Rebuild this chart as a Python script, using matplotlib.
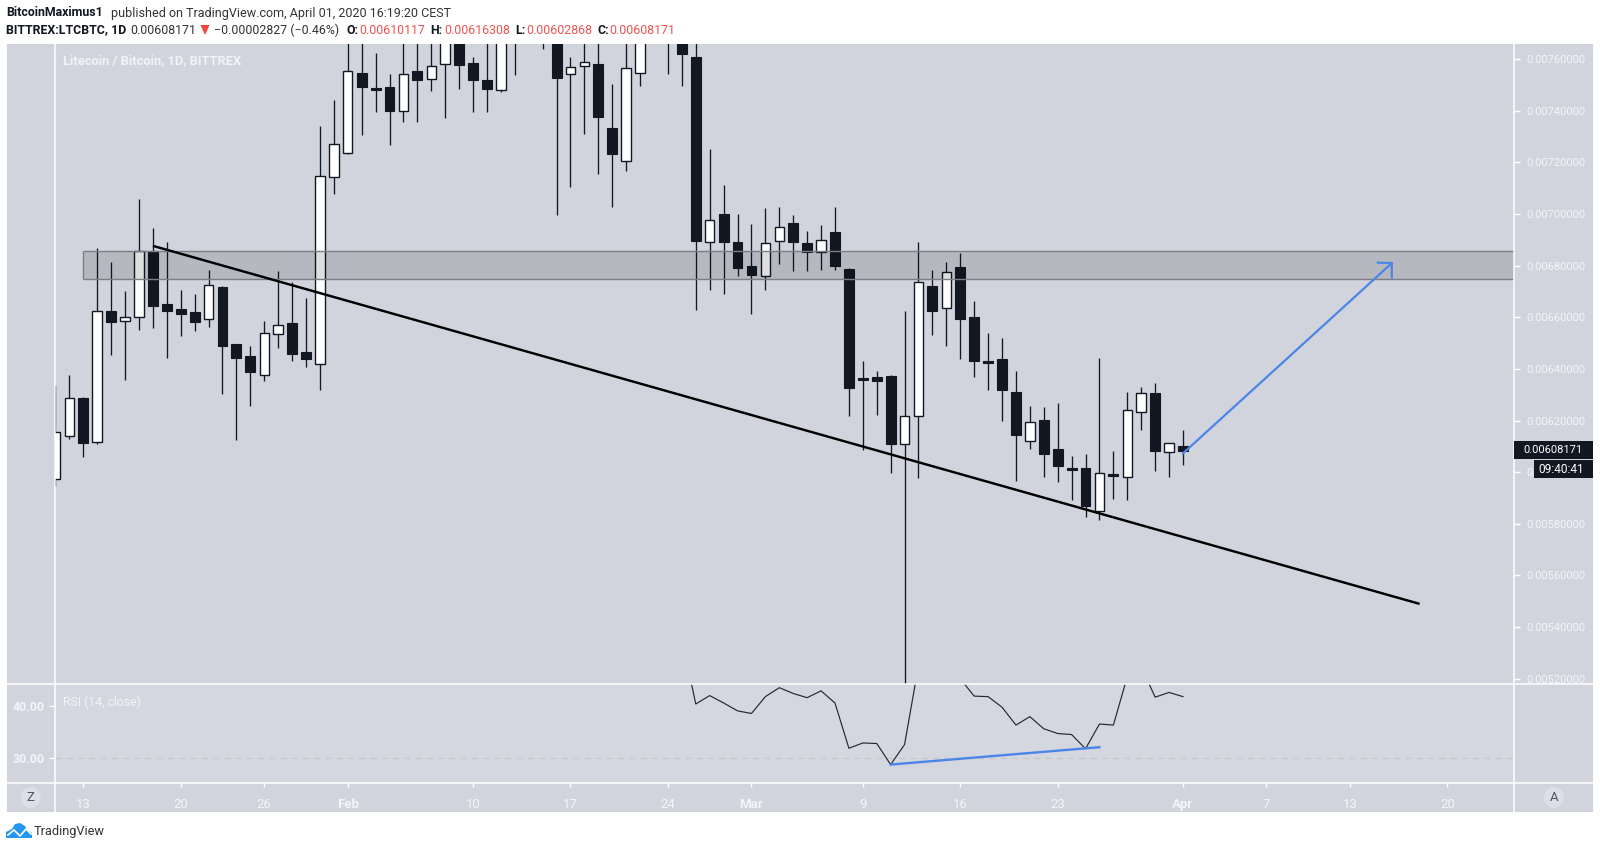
import numpy as np
import matplotlib
matplotlib.use('Agg')
import matplotlib.pyplot as plt
from matplotlib.lines import Line2D
from matplotlib.patches import Rectangle, Ellipse, Polygon

plt.rcParams['font.family'] = ['Roboto', 'DejaVu Sans']

# candles, day 0 = Jan 13 2020, prices in units of 1e-5 BTC
first_day = -2
opens = [597.3, 614.2, 628.6, 611.9, 662.5, 658.7, 660.3, 685.7, 665.2, 663.3, 662.1, 659.5, 671.8, 649.7, 645.0, 637.8,
         653.7, 657.8, 646.6, 642.1, 714.5, 723.8, 754.7, 748.9, 749.3, 740.1, 755.5, 752.2, 758.05, 772, 758.6, 752.0,
         748.2, 775, 772, 772, 775, 754.2, 757.5, 758.2, 733.4, 720.7, 754.8, 775, 775, 770, 760.9, 689.1, 700.1, 689.2,
         679.9, 676.2, 689.7, 696.6, 688.8, 685.5, 693.1, 678.8, 636.5, 636.9, 637.3, 611.1, 621.6, 672.2, 663.8, 679.5,
         660.2, 643.1, 643.9, 631.1, 612.2, 620.2, 609.0, 601.7, 601.7, 585.1, 599.3, 598.3, 623.5, 630.7, 608.0, 610.117]
highs = [633.8, 637.7, 629.0, 686.8, 681.3, 670.2, 705.9, 694.6, 689.2, 670.6, 669.1, 678.4, 672.2, 649.7, 648.9, 658.6,
         678.0, 673.6, 667.5, 734.2, 744.2, 775, 775, 762.3, 754.3, 772, 772, 772, 780, 778, 760.8, 772,
         785, 785, 785, 785, 780, 760.8, 775, 775, 750.4, 775, 785, 785, 785, 780, 775, 725.2, 711.3, 700.1,
         696.2, 702.4, 702.8, 699.7, 693.5, 695.8, 702.8, 679.1, 643.1, 639.2, 637.7, 662.5, 689.2, 678.4, 681.5, 684.9,
         666.4, 653.96, 652.0, 639.2, 625.7, 625.3, 626.8, 606.3, 607.1, 644.3, 608.2, 631.1, 633.0, 634.6, 611.2, 616.308]
lows = [594.8, 612.9, 606.0, 611.0, 645.6, 635.7, 655.1, 655.9, 644.3, 652.8, 654.7, 656.3, 630.3, 612.5, 625.7, 635.4,
        648.1, 643.1, 640.8, 631.9, 707.8, 723.3, 730.7, 739.7, 726.8, 735.8, 735.8, 747.7, 737.3, 748.5, 739.7, 739.7,
        747.3, 754.0, 769, 764.1, 699.8, 710.6, 731.2, 715.6, 702.8, 716.7, 749.7, 770, 754.3, 749.7, 662.9, 670.6, 669.1, 676.0,
        661.3, 670.6, 680.7, 678.0, 678.0, 678.4, 678.4, 621.8, 608.6, 622.2, 599.7, 515.0, 597.8, 653.2, 648.9, 643.9,
        636.9, 631.9, 619.9, 596.6, 609.0, 598.2, 596.2, 589.3, 582.7, 581.5, 589.6, 589.3, 616.4, 600.5, 598.2, 602.868]
closes = [615.7, 628.6, 611.5, 662.4, 658.2, 660.0, 685.6, 664.4, 662.5, 661.3, 658.2, 672.4, 649.0, 644.3, 638.8, 653.8,
          656.9, 645.8, 643.9, 714.7, 727.1, 755.3, 749.3, 748.2, 740.0, 754.2, 752.0, 757.3, 772, 757.9, 752.0, 748.5,
          775, 770, 780, 780, 752.8, 756.9, 758.8, 737.6, 723.3, 756.5, 775, 772, 770, 762.1, 689.6, 697.6, 689.0, 679.1,
          676.4, 688.7, 694.9, 689.2, 685.3, 689.9, 679.9, 632.6, 635.7, 635.4, 611.0, 621.7, 673.6, 662.5, 677.5, 659.4,
          643.1, 642.3, 631.9, 614.4, 619.3, 607.1, 602.4, 600.9, 586.9, 599.6, 598.6, 624.0, 630.6, 608.2, 611.2, 608.171]

# RSI line, only the stretch that shows (day 43 onwards)
rsi_first_day = 43
rsi_values = [52.7, 40.3, 41.9, 40.5, 39.0, 38.5, 41.7, 43.4, 42.3, 41.5, 42.8, 40.5, 31.9, 32.9, 32.8, 28.8, 32.6, 47.6,
              46.0, 47.5, 45.1, 41.8, 41.7, 39.7, 36.3, 37.9, 35.6, 34.7, 34.5, 31.8, 36.5, 36.3, 45.5, 47.4, 41.6, 42.5, 41.7]

# resistance zone and drawings
zone_low, zone_high = 675.0, 685.8
zone_start = 0
trend_days = [5, 96]
trend_prices = [687.7, 549.0]
arrow_days = [79, 94]
arrow_prices = [607.3, 681.0]
head_days = [93, 94, 94]
head_prices = [681.2, 681.0, 675.5]
div_days = [58, 73]
div_values = [28.8, 32.1]

price_ticks = [520, 540, 560, 580, 600, 620, 640, 660, 680, 700, 720, 740, 760]
time_ticks = [0, 7, 13, 19, 28, 35, 42, 48, 56, 63, 70, 79, 85, 91, 98]
time_labels = ['13', '20', '26', 'Feb', '10', '17', '24', 'Mar', '9', '16', '23', 'Apr', '7', '13', '20']
bold_labels = ['Feb', 'Mar', 'Apr']

UNIT = 1e-5
W, H = 1601, 849
BG = '#d1d4dc'
DARK = '#131722'
BLUE = '#4a86e8'
WHITE_TXT = '#f4f5f8'

fig = plt.figure(figsize=(W / 100, H / 100), dpi=100, facecolor='white')


def fx(x):
    return x / W


def fy(y):
    return 1 - y / H


def px_axes(x0, y0, x1, y1):
    return fig.add_axes([fx(x0), fy(y1), fx(x1 - x0), (y1 - y0) / H])


# panel behind everything
fig.add_artist(Rectangle((fx(7), fy(812)), fx(1586), 768 / H, transform=fig.transFigure,
                         facecolor=BG, edgecolor='none', zorder=-5))

L, R, TOP, SEP, BOT = 54.6, 1514, 44, 684, 783
xlim = (-2.06, 102.78)

# price pane
ax = px_axes(L, TOP, R, SEP)
ax.set_facecolor('none')
days = np.arange(first_day, first_day + len(opens))
o, h, l, c = [np.array(a) * UNIT for a in (opens, highs, lows, closes)]
up = c >= o
ax.vlines(days, l, h, color=DARK, lw=0.95, zorder=2)
ax.bar(days[up], (c - o)[up], bottom=o[up], width=0.68, color='white', edgecolor=DARK, linewidth=1.0, zorder=3)
ax.bar(days[~up], (o - c)[~up], bottom=c[~up], width=0.71, color=DARK, edgecolor=DARK, linewidth=0.8, zorder=3)

ax.add_patch(Rectangle((zone_start, zone_low * UNIT), 200, (zone_high - zone_low) * UNIT, facecolor='black', alpha=0.13,
                       edgecolor='none', zorder=4))
ax.hlines([zone_low * UNIT, zone_high * UNIT], zone_start, 200, color='#7c7e85', lw=1.0, zorder=4)
ax.vlines(zone_start, zone_low * UNIT, zone_high * UNIT, color='#7c7e85', lw=1.0, zorder=4)

ax.plot(trend_days, np.array(trend_prices) * UNIT, color='black', lw=1.75, zorder=5, solid_capstyle='butt')
ax.plot(arrow_days, np.array(arrow_prices) * UNIT, color=BLUE, lw=1.6, zorder=5)
ax.plot(head_days, np.array(head_prices) * UNIT, color=BLUE, lw=1.6, zorder=5)

ax.set_xlim(*xlim)
ax.set_ylim(517.96 * UNIT, 765.9 * UNIT)
ax.set_xticks([])
ax.yaxis.tick_right()
ax.set_yticks(np.array(price_ticks) * UNIT)
ax.set_yticklabels(['%.8f' % (t * UNIT) for t in price_ticks])
ax.tick_params(axis='y', length=4, width=1, color='white', labelcolor=WHITE_TXT, labelsize=8.0, pad=5)
for s in ax.spines.values():
    s.set_visible(False)

# rsi pane
rsi = px_axes(L, SEP, R, BOT)
rsi.set_facecolor('#d4d7df')
rsi.plot(np.arange(rsi_first_day, rsi_first_day + len(rsi_values)), rsi_values, color='#26282e', lw=0.85, zorder=3)
rsi.plot(div_days, div_values, color=BLUE, lw=1.7, zorder=4)
rsi.axhline(30, color='#c6c8c6', lw=0.9, dashes=(5, 4), zorder=1)
rsi.set_xlim(*xlim)
rsi.set_ylim(25.3, 44.1)
rsi.set_yticks([30, 40])
rsi.set_yticklabels(['30.00', '40.00'], fontweight='bold')
rsi.set_xticks(time_ticks)
rsi.set_xticklabels(time_labels)
rsi.tick_params(axis='y', length=4, width=1, color='white', labelcolor=WHITE_TXT, labelsize=8.8, pad=3)
rsi.tick_params(axis='x', length=3, width=1, color='white', labelcolor=WHITE_TXT, labelsize=9.5, pad=8)
for lab in rsi.get_xticklabels():
    if lab.get_text() in bold_labels:
        lab.set_fontweight('bold')
for s in rsi.spines.values():
    s.set_visible(False)

# white pane separators
for xs, ys in [((L, L), (TOP, 812)), ((R, R), (TOP, 812)), ((7, 1593), (SEP, SEP)), ((7, 1593), (BOT, BOT))]:
    fig.add_artist(Line2D([fx(v) for v in xs], [fy(v) for v in ys], transform=fig.transFigure,
                          color='white', lw=1.1, zorder=6))

# last price and countdown boxes
for x0, y0, x1, y1 in [(1514, 441, 1593, 459), (1534, 460, 1593, 478)]:
    fig.add_artist(Rectangle((fx(x0), fy(y1)), fx(x1 - x0), (y1 - y0) / H, transform=fig.transFigure,
                             facecolor=DARK, edgecolor='none', zorder=7))
fig.text(fx(1523), fy(450), '0.00608171', color='white', fontsize=8.0, va='center', ha='left', zorder=8)
fig.text(fx(1538), fy(469), '09:40:41', color='white', fontsize=8.6, va='center', ha='left', zorder=8)

# Z and A buttons
for cx, letter in [(30.6, 'Z'), (1554, 'A')]:
    fig.add_artist(Ellipse((fx(cx), fy(797.5)), fx(20), 21 / H, transform=fig.transFigure,
                           facecolor='#dcdfe6', edgecolor='none', zorder=6))
    fig.text(fx(cx), fy(797.5), letter, color='#50535e', fontsize=9.5, ha='center', va='center', zorder=7)

# watermarks
fig.text(fx(63), fy(60.5), 'Litecoin / Bitcoin, 1D, BITTREX', color='#f2f3f6', fontsize=9.3, fontweight='bold',
         va='center', zorder=7)
fig.text(fx(63), fy(702), 'RSI (14, close)', color='#f2f3f6', fontsize=8.8, va='center', zorder=7)

# header
fig.text(fx(6), fy(13), 'BitcoinMaximus1', color=DARK, fontsize=8.9, fontweight='bold', va='center')
fig.text(fx(110.5), fy(13), 'published on TradingView.com, April 01, 2020 16:19:20 CEST', color='#333333',
         fontsize=9.0, va='center')
RED = '#ef5350'
header2 = [(6, 'BITTREX:LTCBTC, 1D', DARK, 'bold'), (130, '0.00608171', '#333333', 'normal'),
           (214, '\u22120.00002827 (\u22120.46%)', '#333333', 'normal'),
           (346, 'O:', DARK, 'bold'), (359, '0.00610117', RED, 'normal'),
           (430, 'H:', DARK, 'bold'), (444, '0.00616308', RED, 'normal'),
           (515, 'L:', DARK, 'bold'), (526, '0.00602868', RED, 'normal'),
           (597, 'C:', DARK, 'bold'), (609, '0.00608171', RED, 'normal')]
for x, txt, col, wt in header2:
    fig.text(fx(x), fy(30), txt, color=col, fontsize=8.9, fontweight=wt, va='center')
fig.add_artist(Polygon([(fx(200.5), fy(25)), (fx(209.5), fy(25)), (fx(205), fy(35))], transform=fig.transFigure,
                       facecolor='#f4433c', edgecolor='none'))

# footer logo
cloud = [(6, 838), (6, 832), (12, 829), (15, 824), (20, 823), (25, 826), (27, 830), (32, 833), (32, 838)]
fig.add_artist(Polygon([(fx(x), fy(y)) for x, y in cloud], transform=fig.transFigure, facecolor='#2196f3', edgecolor='none'))
zig = [(8, 835), (14, 830), (20, 836), (26, 829), (31, 834)]
fig.add_artist(Line2D([fx(x) for x, y in zig], [fy(y) for x, y in zig], transform=fig.transFigure, color='white', lw=1.2))
fig.text(fx(34), fy(831), 'TradingView', color='#333333', fontsize=9.2, va='center')

fig.savefig('out.png', dpi=100)
